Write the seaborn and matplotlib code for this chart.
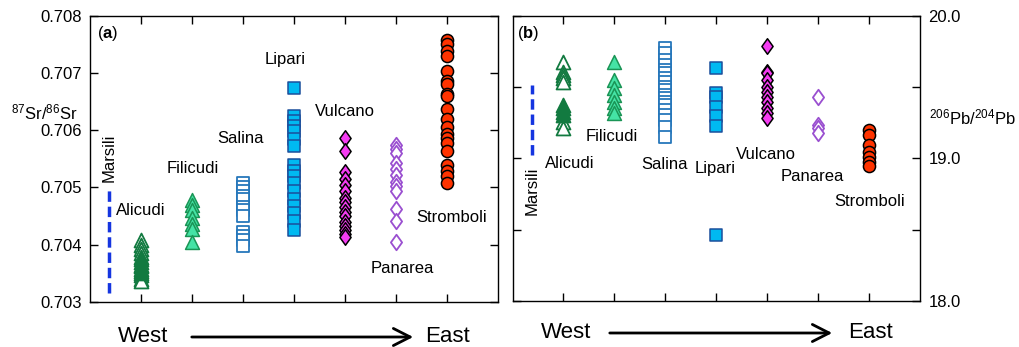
import matplotlib
matplotlib.use('Agg')
import matplotlib.pyplot as plt
from matplotlib.path import Path
import numpy as np
import pandas as pd
import seaborn as sns

# islands ordered west -> east
islands = ['Alicudi', 'Filicudi', 'Salina', 'Lipari', 'Vulcano', 'Panarea', 'Stromboli']

# 87Sr/86Sr (panel a)
sr_marsili = [0.70316, 0.70497]
sr_alicudi_open = [0.70409, 0.70400, 0.70392, 0.70385, 0.70378, 0.70370, 0.70362,
                   0.70355, 0.70348, 0.70340, 0.70336]
sr_alicudi_filled = [0.70375, 0.70365, 0.70358, 0.70350]
sr_filicudi = [0.70478, 0.70469, 0.70460, 0.70446, 0.70437, 0.70428, 0.70404]
sr_salina = [0.70508, 0.70500, 0.70494, 0.70485, 0.70479, 0.70466, 0.70460, 0.70450,
             0.70423, 0.70416, 0.70409, 0.70397]
sr_lipari = [0.70673, 0.70625, 0.70616, 0.70607, 0.70598, 0.70584, 0.70572, 0.70540,
             0.70528, 0.70520, 0.70508, 0.70494, 0.70479, 0.70467, 0.70456, 0.70441, 0.70426]
sr_vulcano = [0.70587, 0.70564, 0.70527, 0.70514, 0.70505, 0.70494, 0.70482, 0.70475,
              0.70466, 0.70457, 0.70450, 0.70440, 0.70432, 0.70425, 0.70418, 0.70414]
sr_panarea = [0.70574, 0.70568, 0.70561, 0.70543, 0.70532, 0.70522, 0.70510, 0.70502,
              0.70494, 0.70462, 0.70442, 0.70404]
sr_stromboli = [0.70757, 0.70751, 0.70739, 0.70730, 0.70704, 0.70686, 0.70681, 0.70663,
                0.70660, 0.70637, 0.70619, 0.70605, 0.70593, 0.70587, 0.70578, 0.70564,
                0.70540, 0.70529, 0.70520, 0.70508]

# 206Pb/204Pb (panel b)
pb_marsili = [19.024, 19.515]
pb_alicudi_open = [19.678, 19.607, 19.584, 19.561, 19.537, 19.257, 19.211]
pb_alicudi_filled = [19.374, 19.351, 19.327, 19.304]
pb_filicudi = [19.678, 19.549, 19.491, 19.444, 19.397, 19.351, 19.316]
pb_salina = [19.771, 19.736, 19.689, 19.654, 19.619, 19.596, 19.561, 19.537, 19.502,
             19.479, 19.444, 19.421, 19.397, 19.374, 19.339, 19.304, 19.269, 19.222, 19.152]
pb_lipari = [19.631, 19.456, 19.430, 19.362, 19.300, 19.227, 18.463]
pb_vulcano = [19.788, 19.607, 19.596, 19.549, 19.502, 19.467, 19.432, 19.397, 19.351,
              19.316, 19.281]
pb_panarea = [19.432, 19.234, 19.211, 19.180]
pb_stromboli = [19.199, 19.164, 19.094, 19.047, 19.012, 18.977, 18.948]

sr_ticks = [0.703, 0.704, 0.705, 0.706, 0.707, 0.708]
pb_ticks = [18.0, 18.5, 19.0, 19.5, 20.0]
pb_ticklabels = ['18.0', '', '19.0', '', '20.0']

sns.set_theme(style='ticks')
plt.rcParams['font.family'] = ['Liberation Sans', 'DejaVu Sans']
plt.rcParams['mathtext.fontset'] = 'custom'
plt.rcParams['mathtext.rm'] = 'Liberation Sans'
plt.rcParams['mathtext.bf'] = 'Liberation Sans:bold'
plt.rcParams['mathtext.default'] = 'regular'
plt.rcParams['text.color'] = 'black'
plt.rcParams['axes.labelcolor'] = 'black'

diamond = Path([(0, 1), (0.72, 0), (0, -1), (-0.72, 0), (0, 1)],
               [Path.MOVETO, Path.LINETO, Path.LINETO, Path.LINETO, Path.CLOSEPOLY])

# marker, face, edge, size, linewidth
styles = {
    'Alicudi_open': ('^', 'white', '#127a40', 100, 1.3),
    'Alicudi_filled': ('^', '#127a40', '#127a40', 100, 1.3),
    'Filicudi': ('^', '#45e3a5', '#1a9556', 100, 1.1),
    'Salina': ('s', 'white', '#2677bb', 76, 1.3),
    'Lipari': ('s', '#00b9f1', '#1b4f9c', 76, 1.1),
    'Vulcano': (diamond, '#f53cf2', 'black', 125, 1.1),
    'Panarea': (diamond, 'white', '#9a4fd0', 125, 1.3),
    'Stromboli': ('o', '#ff3300', 'black', 76, 1.1),
}


def draw_points(ax, groups):
    for key, pos, vals in groups:
        m, fc, ec, s, lw = styles[key]
        df = pd.DataFrame({'x': [pos] * len(vals), 'y': vals})
        sns.scatterplot(data=df, x='x', y='y', ax=ax, marker=m, s=s, color=fc,
                        edgecolor=ec, linewidth=lw, legend=False, zorder=3)


fig = plt.figure(figsize=(10.2, 3.47), dpi=100)
ax1 = fig.add_axes([0.0882, 0.1297, 0.4, 0.8251])
ax2 = fig.add_axes([0.5025, 0.1326, 0.3995, 0.8222])

marsili_x = 0.38
draw_points(ax1, [
    ('Alicudi_open', 1, sr_alicudi_open), ('Alicudi_filled', 1, sr_alicudi_filled),
    ('Filicudi', 2, sr_filicudi), ('Salina', 3, sr_salina), ('Lipari', 4, sr_lipari),
    ('Vulcano', 5, sr_vulcano), ('Panarea', 6, sr_panarea), ('Stromboli', 7, sr_stromboli)])
draw_points(ax2, [
    ('Alicudi_open', 1, pb_alicudi_open), ('Alicudi_filled', 1, pb_alicudi_filled),
    ('Filicudi', 2, pb_filicudi), ('Salina', 3, pb_salina), ('Lipari', 4, pb_lipari),
    ('Vulcano', 5, pb_vulcano), ('Panarea', 6, pb_panarea), ('Stromboli', 7, pb_stromboli)])

for ax, vals in [(ax1, sr_marsili), (ax2, pb_marsili)]:
    ax.plot([marsili_x, marsili_x], vals, color='#1535e0', lw=2.5,
            dashes=(3, 1.4), zorder=2)

# island labels: (x, y) in data coords
labels_a = {'Marsili': (0.38, 0.70551), 'Alicudi': (0.99, 0.70460), 'Filicudi': (2.02, 0.70533),
            'Salina': (2.96, 0.70586), 'Lipari': (3.83, 0.70723), 'Vulcano': (5.0, 0.70633),
            'Panarea': (6.13, 0.70358), 'Stromboli': (7.09, 0.70447)}
labels_b = {'Marsili': (0.38, 18.771), 'Alicudi': (1.12, 18.967), 'Filicudi': (1.95, 19.150),
            'Salina': (2.98, 18.960), 'Lipari': (3.97, 18.932), 'Vulcano': (4.97, 19.030),
            'Panarea': (5.88, 18.876), 'Stromboli': (7.01, 18.694)}

for ax, labs in [(ax1, labels_a), (ax2, labels_b)]:
    for name, (x, y) in labs.items():
        rot = 90 if name == 'Marsili' else 0
        ax.text(x, y, name, fontsize=12, ha='center', va='center', rotation=rot)

ax1.set_xlim(0, 8)
ax1.set_ylim(0.703, 0.708)
ax2.set_xlim(0, 8)
ax2.set_ylim(18.0, 20.0)

for ax in (ax1, ax2):
    ax.set_xticks(range(1, 8))
    ax.set_xticklabels([])
    ax.set_xlabel('')
    ax.set_ylabel('')
    ax.tick_params(direction='in', length=6, width=1, top=True, right=True,
                   labelsize=12, colors='black', pad=6)
    for sp in ax.spines.values():
        sp.set_visible(True)
        sp.set_linewidth(1.0)
        sp.set_color('black')

ax1.set_yticks(sr_ticks)
ax1.set_yticklabels(['%.3f' % t for t in sr_ticks])
ax1.tick_params(axis='y', labelleft=True, labelright=False)

ax2.set_yticks(pb_ticks)
ax2.set_yticklabels(pb_ticklabels)
ax2.tick_params(axis='y', labelleft=False, labelright=True)

ax1.text(0.017, 0.937, r'($\mathbf{a}$)', transform=ax1.transAxes, fontsize=12,
         ha='left', va='center')
ax2.text(0.011, 0.937, r'($\mathbf{b}$)', transform=ax2.transAxes, fontsize=12,
         ha='left', va='center')

fig.text(44.5 / 1020, 1 - 112 / 347, r'$^{87}$Sr/$^{86}$Sr', fontsize=12,
         ha='center', va='center')
fig.text(972 / 1020, 1 - 117 / 347, r'$^{206}$Pb/$^{204}$Pb', fontsize=12,
         ha='center', va='center')

# West -> East arrows
for xw, xe, a0, a1, yy in [(143, 448, 189, 416, 337), (566, 871, 607, 835, 333)]:
    fy = 1 - yy / 347
    fig.text(xw / 1020, fy, 'West', fontsize=16, ha='center', va='center')
    fig.text(xe / 1020, fy, 'East', fontsize=16, ha='center', va='center')
    fig.add_artist(matplotlib.patches.FancyArrowPatch(
        (a0 / 1020, fy), (a1 / 1020, fy), transform=fig.transFigure,
        arrowstyle='->,head_length=0.55,head_width=0.28', mutation_scale=22,
        lw=2, color='black'))

fig.savefig('out.png', dpi=100, facecolor='white')
